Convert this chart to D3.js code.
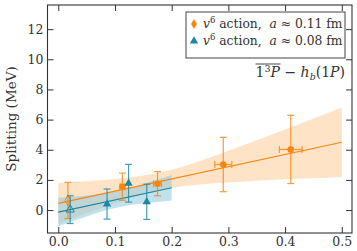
<!DOCTYPE html>
<html>
<head>
<meta charset="utf-8">
<script src="https://cdn.jsdelivr.net/npm/d3@7"></script>
<style>
  body { margin: 0; background: #fff; }
  svg { display: block; }
</style>
</head>
<body>
<div id="vis-container"></div>
<script>
// data
const xTicks = [0.0, 0.1, 0.2, 0.3, 0.4, 0.5];
const yTicks = [0, 2, 4, 6, 8, 10, 12];

// a ~ 0.11 fm (orange)
const orangeX = [0.113, 0.175, 0.291, 0.410];
const orangeY = [1.55, 1.75, 3.02, 4.02];
const orangeXerr = [0.004, 0.007, 0.015, 0.02];
const orangeYerr = [0.9, 0.8, 1.8, 2.26];
const orangeExtrap = { x: 0.017, y: 0.64, yerr: 1.2 };
const orangeFitX = [0, 0.5];
const orangeFitY = [0.45, 4.5];
const orangeBandX = [0, 0.1, 0.2, 0.3, 0.4, 0.5];
const orangeBandLo = [-0.90, 0.46, 1.47, 1.83, 2.04, 2.20];
const orangeBandHi = [1.80, 2.06, 2.67, 3.93, 5.34, 6.80];

// a ~ 0.08 fm (teal)
const blueX = [0.086, 0.124, 0.156];
const blueY = [0.40, 1.78, 0.55];
const blueYerr = [1.0, 1.25, 1.17];
const blueExtrap = { x: 0.021, y: 0.03, yerr: 0.92 };
const blueFitX = [0, 0.2];
const blueFitY = [-0.13, 1.48];
const blueBandX = [0, 0.05, 0.1, 0.15, 0.2];
const blueBandLo = [-1.08, -0.43, 0.13, 0.43, 0.63];
const blueBandHi = [0.82, 0.97, 1.23, 1.73, 2.33];

const width = 357;
const height = 251;
const margin = { top: 5, right: 5, bottom: 18, left: 47.5 };

const orange = "#f7860f";
const teal = "#1b87a3";
const serif = "DejaVu Serif";

const svg = d3.select("#vis-container")
  .append("svg")
  .attr("width", width)
  .attr("height", height);

const xScale = d3.scaleLinear()
  .domain([-0.019, 0.518])
  .range([margin.left, width - margin.right]);

const yScale = d3.scaleLinear()
  .domain([-1.52, 13.6])
  .range([height - margin.bottom, margin.top]);

// bands
const area = d3.area()
  .x((d) => xScale(d[0]))
  .y0((d) => yScale(d[1]))
  .y1((d) => yScale(d[2]))
  .curve(d3.curveNatural);

svg.append("path")
  .datum(orangeBandX.map((x, i) => [x, orangeBandLo[i], orangeBandHi[i]]))
  .attr("d", area)
  .attr("fill", "#ffdcb8")
  .attr("opacity", 0.8);

svg.append("path")
  .datum(blueBandX.map((x, i) => [x, blueBandLo[i], blueBandHi[i]]))
  .attr("d", area)
  .attr("fill", "#8ccbe0")
  .attr("opacity", 0.55);

// fit lines
const line = d3.line()
  .x((d) => xScale(d[0]))
  .y((d) => yScale(d[1]));

svg.append("path")
  .datum(orangeFitX.map((x, i) => [x, orangeFitY[i]]))
  .attr("d", line)
  .attr("fill", "none")
  .attr("stroke", orange)
  .attr("stroke-width", 1.2);

svg.append("path")
  .datum(blueFitX.map((x, i) => [x, blueFitY[i]]))
  .attr("d", line)
  .attr("fill", "none")
  .attr("stroke", teal)
  .attr("stroke-width", 1.2);

// error bars helper
const cap = 3.5;
function errorBar(x, y, xerr, yerr, color) {
  const g = svg.append("g")
    .attr("stroke", color)
    .attr("stroke-width", 1.2)
    .attr("opacity", 0.8);
  const cx = xScale(x), cy = yScale(y);
  const y0 = yScale(y - yerr), y1 = yScale(y + yerr);
  g.append("line").attr("x1", cx).attr("x2", cx).attr("y1", y0).attr("y2", y1);
  g.append("line").attr("x1", cx - cap).attr("x2", cx + cap).attr("y1", y0).attr("y2", y0);
  g.append("line").attr("x1", cx - cap).attr("x2", cx + cap).attr("y1", y1).attr("y2", y1);
  if (xerr > 0) {
    const x0 = xScale(x - xerr), x1 = xScale(x + xerr);
    g.append("line").attr("x1", x0).attr("x2", x1).attr("y1", cy).attr("y2", cy);
    g.append("line").attr("x1", x0).attr("x2", x0).attr("y1", cy - cap).attr("y2", cy + cap);
    g.append("line").attr("x1", x1).attr("x2", x1).attr("y1", cy - cap).attr("y2", cy + cap);
  }
}

const diamond = d3.symbol().type(d3.symbolDiamond).size(30);
const triangle = d3.symbol().type(d3.symbolTriangle).size(30);

// orange points
errorBar(orangeExtrap.x, orangeExtrap.y, 0, orangeExtrap.yerr, orange);
svg.append("path")
  .attr("d", diamond())
  .attr("transform", `translate(${xScale(orangeExtrap.x)},${yScale(orangeExtrap.y)})`)
  .attr("fill", "none")
  .attr("stroke", orange)
  .attr("stroke-width", 1);

orangeX.forEach((x, i) => errorBar(x, orangeY[i], orangeXerr[i], orangeYerr[i], orange));
svg.selectAll(".opt")
  .data(orangeX)
  .enter()
  .append("circle")
  .attr("class", "opt")
  .attr("cx", (d) => xScale(d))
  .attr("cy", (d, i) => yScale(orangeY[i]))
  .attr("r", 3.3)
  .attr("fill", orange);

// teal points
errorBar(blueExtrap.x, blueExtrap.y, 0, blueExtrap.yerr, teal);
svg.append("path")
  .attr("d", triangle())
  .attr("transform", `translate(${xScale(blueExtrap.x)},${yScale(blueExtrap.y)})`)
  .attr("fill", "none")
  .attr("stroke", teal)
  .attr("stroke-width", 1);

blueX.forEach((x, i) => errorBar(x, blueY[i], 0, blueYerr[i], teal));
svg.selectAll(".bpt")
  .data(blueX)
  .enter()
  .append("path")
  .attr("class", "bpt")
  .attr("d", triangle())
  .attr("transform", (d, i) => `translate(${xScale(d)},${yScale(blueY[i])})`)
  .attr("fill", teal);

// axes, ticks pointing inward on all four sides
const tickLen = 6;
const x0 = margin.left, x1 = width - margin.right;
const yb = height - margin.bottom, yt = margin.top;

svg.append("g")
  .attr("transform", `translate(0,${yb})`)
  .call(d3.axisBottom(xScale).tickValues(xTicks).tickFormat(d3.format(".1f"))
    .tickSizeInner(-tickLen).tickSizeOuter(0).tickPadding(4))
  .call((g) => g.select(".domain").remove())
  .attr("font-family", serif)
  .attr("font-size", "12.5px");

svg.append("g")
  .attr("transform", `translate(0,${yt})`)
  .call(d3.axisTop(xScale).tickValues(xTicks).tickFormat("")
    .tickSizeInner(-tickLen).tickSizeOuter(0))
  .call((g) => g.select(".domain").remove());

svg.append("g")
  .attr("transform", `translate(${x0},0)`)
  .call(d3.axisLeft(yScale).tickValues(yTicks).tickFormat(d3.format("d"))
    .tickSizeInner(-tickLen).tickSizeOuter(0).tickPadding(4))
  .call((g) => g.select(".domain").remove())
  .attr("font-family", serif)
  .attr("font-size", "12.5px");

svg.append("g")
  .attr("transform", `translate(${x1},0)`)
  .call(d3.axisRight(yScale).tickValues(yTicks).tickFormat("")
    .tickSizeInner(-tickLen).tickSizeOuter(0))
  .call((g) => g.select(".domain").remove());

svg.selectAll(".tick line").attr("stroke", "#333");
svg.selectAll(".tick text").attr("fill", "#333");

svg.append("rect")
  .attr("x", x0)
  .attr("y", yt)
  .attr("width", x1 - x0)
  .attr("height", yb - yt)
  .attr("fill", "none")
  .attr("stroke", "#333")
  .attr("stroke-width", 1.1);

// y label
svg.append("text")
  .attr("transform", `translate(16,${(yt + yb) / 2}) rotate(-90)`)
  .attr("text-anchor", "middle")
  .attr("font-family", serif)
  .attr("font-size", "13.5px")
  .attr("fill", "#333")
  .text("Splitting (MeV)");

// legend
const legend = svg.append("g");
legend.append("rect")
  .attr("x", 186)
  .attr("y", 12)
  .attr("width", 159)
  .attr("height", 46)
  .attr("fill", "#fff")
  .attr("stroke", "#444")
  .attr("stroke-width", 1);

const legendRows = [
  { label: "0.11", color: orange, sym: d3.symbolDiamond },
  { label: "0.08", color: teal, sym: d3.symbolTriangle }
];
legendRows.forEach((r, i) => {
  const cy = 24 + i * 17;
  legend.append("path")
    .attr("d", d3.symbol().type(r.sym).size(30)())
    .attr("transform", `translate(194,${cy})`)
    .attr("fill", r.color);
  const t = legend.append("text")
    .attr("x", 203)
    .attr("y", cy + 4)
    .attr("font-family", serif)
    .attr("font-size", "12.3px")
    .attr("fill", "#333");
  t.append("tspan").attr("font-style", "italic").text("v");
  t.append("tspan").attr("font-size", "8.5px").attr("dy", -5).text("6");
  t.append("tspan").attr("dy", 5).text("\u00a0action,\u00a0\u00a0");
  t.append("tspan").attr("font-style", "italic").text("a");
  t.append("tspan").text("\u00a0\u2248\u00a0" + r.label + "\u00a0fm");
});

// annotation: overline(1^3P) - h_b(1P)
const ann = svg.append("g").attr("font-family", serif).attr("fill", "#333");
const right = ann.append("text")
  .attr("x", 345)
  .attr("y", 77)
  .attr("text-anchor", "end")
  .attr("font-size", "14px");
right.append("tspan").text("\u00a0\u2212\u00a0");
right.append("tspan").attr("font-style", "italic").text("h");
right.append("tspan").attr("font-size", "9.5px").attr("font-style", "italic").attr("dy", 3).text("b");
right.append("tspan").attr("dy", -3).text("(1");
right.append("tspan").attr("font-style", "italic").text("P");
right.append("tspan").text(")");
const rw = right.node().getComputedTextLength();

const left = ann.append("text")
  .attr("x", 345 - rw)
  .attr("y", 77)
  .attr("text-anchor", "end")
  .attr("font-size", "14px");
left.append("tspan").text("1");
left.append("tspan").attr("font-size", "9.5px").attr("dy", -5).text("3");
left.append("tspan").attr("font-style", "italic").attr("dy", 5).text("P");
const lb = left.node().getBBox();
ann.append("line")
  .attr("x1", lb.x)
  .attr("x2", lb.x + lb.width)
  .attr("y1", lb.y + 1)
  .attr("y2", lb.y + 1)
  .attr("stroke", "#333")
  .attr("stroke-width", 0.9);
</script>
</body>
</html>
